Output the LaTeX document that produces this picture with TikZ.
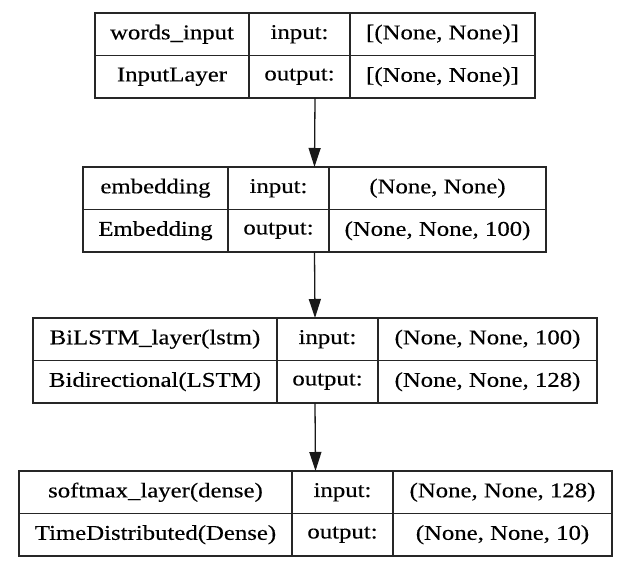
\documentclass[tikz,border=0pt]{standalone}
\usepackage{fontspec}
\setmainfont{Liberation Serif}[FakeStretch=1.18,FakeBold=0.3]
\usetikzlibrary{arrows.meta}
\tikzset{
  cell/.style={draw=black!85,line width=1.3pt,inner sep=0pt,outer sep=0pt,
    minimum height=42.5pt,anchor=north west,font=\fontsize{21}{23}\selectfont},
  layerbox/.style={inner sep=0pt,outer sep=0pt,minimum height=85pt,anchor=north west},
  flow/.style={-{Triangle[length=19pt,width=12pt]},line width=1.3pt,draw=black!90}
}
\begin{document}
\begin{tikzpicture}[x=1pt,y=1pt]
\useasboundingbox (0,0) rectangle (630,-570);
% one box per layer: name | in/out | shapes
\foreach \n/\xa/\xb/\xc/\xd/\yt/\lname/\lcls/\vin/\vout in {
  l1/95/249/350/535/13/words\_input/InputLayer/{[(None, None)]}/{[(None, None)]},
  l2/83/228/329/546/167/embedding/Embedding/{(None, None)}/{(None, None, 100)},
  l3/33/277/378/597/318/BiLSTM\_layer(lstm)/Bidirectional(LSTM)/{(None, None, 100)}/{(None, None, 128)},
  l4/19/292/393/612/471/softmax\_layer(dense)/TimeDistributed(Dense)/{(None, None, 128)}/{(None, None, 10)}}
{
  \node[layerbox,minimum width=\xd-\xa] (\n) at (\xa,-\yt) {};
  \node[cell,minimum width=\xb-\xa] (\n-name) at (\xa,-\yt) {\lname};
  \node[cell,minimum width=\xb-\xa] (\n-cls) at (\xa,-\yt-42.5) {\lcls};
  \node[cell,minimum width=\xc-\xb] (\n-in) at (\xb,-\yt) {input:};
  \node[cell,minimum width=\xc-\xb] (\n-out) at (\xb,-\yt-42.5) {output:};
  \node[cell,minimum width=\xd-\xc] (\n-vin) at (\xc,-\yt) {\vin};
  \node[cell,minimum width=\xd-\xc] (\n-vout) at (\xc,-\yt-42.5) {\vout};
}
% arrows
\draw[flow] (l1.south) -- (l2.north);
\draw[flow] (l2.south) -- (l3.north);
\draw[flow] (l3.south) -- (l4.north);
\end{tikzpicture}
\end{document}
